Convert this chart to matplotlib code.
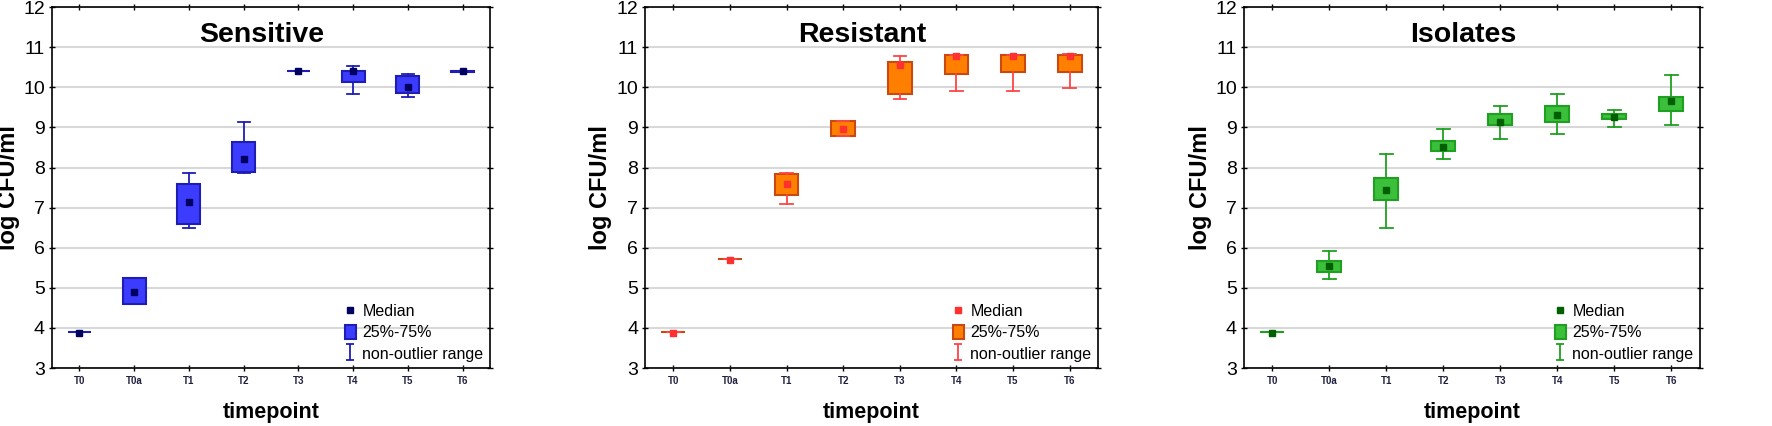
import matplotlib.pyplot as plt
import numpy as np
from matplotlib.path import Path
from matplotlib.patches import Patch
from matplotlib.lines import Line2D

plt.rcParams['font.family'] = ['Liberation Sans Narrow', 'Liberation Sans', 'DejaVu Sans']

timepoints = ["T0", "T0a", "T1", "T2", "T3", "T4", "T5", "T6"]

# sensitive
sens_med = [3.88, 4.90, 7.13, 8.20, 10.40, 10.40, 10.00, 10.40]
sens_q1 = [3.90, 4.60, 6.58, 7.90, 10.40, 10.13, 9.85, 10.38]
sens_q3 = [3.90, 5.25, 7.60, 8.63, 10.40, 10.40, 10.27, 10.40]
sens_lo = [3.90, 4.60, 6.48, 7.87, 10.40, 9.83, 9.77, 10.38]
sens_hi = [3.90, 5.25, 7.87, 9.13, 10.40, 10.53, 10.33, 10.40]

# resistant
res_med = [3.87, 5.70, 7.60, 8.97, 10.55, 10.78, 10.78, 10.78]
res_q1 = [3.90, 5.72, 7.32, 8.78, 9.83, 10.33, 10.37, 10.37]
res_q3 = [3.90, 5.72, 7.83, 9.17, 10.63, 10.80, 10.80, 10.80]
res_lo = [3.90, 5.72, 7.10, 8.78, 9.70, 9.90, 9.90, 9.97]
res_hi = [3.90, 5.72, 7.87, 9.17, 10.77, 10.80, 10.80, 10.82]

# isolates
iso_med = [3.87, 5.55, 7.43, 8.52, 9.13, 9.30, 9.27, 9.65]
iso_q1 = [3.90, 5.40, 7.20, 8.40, 9.05, 9.13, 9.20, 9.40]
iso_q3 = [3.90, 5.67, 7.73, 8.67, 9.33, 9.53, 9.33, 9.77]
iso_lo = [3.90, 5.23, 6.48, 8.20, 8.70, 8.83, 9.00, 9.07]
iso_hi = [3.90, 5.93, 8.33, 8.97, 9.53, 9.83, 9.43, 10.30]

panels = [
    ("Sensitive", sens_med, sens_q1, sens_q3, sens_lo, sens_hi, "#3c3cff", "#1e1eb4", "#1e1eb4", "#000060"),
    ("Resistant", res_med, res_q1, res_q3, res_lo, res_hi, "#ff8000", "#c84a10", "#ff4545", "#ff3030"),
    ("Isolates", iso_med, iso_q1, iso_q3, iso_lo, iso_hi, "#3cc03c", "#20a020", "#20a020", "#006000"),
]
positions = [[0.0293, 0.136, 0.2472, 0.8474],
             [0.364, 0.136, 0.2556, 0.8474],
             [0.702, 0.136, 0.2573, 0.8474]]
label_x = [-0.073, -0.073, -0.070]

# whisker symbol for the legend
whisk = Path([(-0.5, 1), (0.5, 1), (0, 1), (0, -1), (-0.5, -1), (0.5, -1)],
             [Path.MOVETO, Path.LINETO, Path.MOVETO, Path.LINETO, Path.MOVETO, Path.LINETO])

fig = plt.figure(figsize=(17.72, 4.26), dpi=100)
for pos, lx, (name, med, q1, q3, lo, hi, fill, edge, wcol, mcol) in zip(positions, label_x, panels):
    ax = fig.add_axes(pos)
    x = np.arange(len(timepoints))
    stats = []
    for i in range(len(timepoints)):
        stats.append(dict(med=med[i], q1=q1[i], q3=q3[i], whislo=lo[i], whishi=hi[i], fliers=[]))
    ax.bxp(stats, positions=x, widths=0.42, capwidths=0.22, patch_artist=True, showfliers=False,
           boxprops=dict(facecolor=fill, edgecolor=edge, linewidth=1.5),
           whiskerprops=dict(color=wcol, linewidth=1.3),
           capprops=dict(color=wcol, linewidth=1.3),
           medianprops=dict(visible=False), zorder=3)
    ax.plot(x, med, 's', color=mcol, markersize=5, zorder=4, linestyle='none')
    ax.set_xlim(-0.5, len(timepoints) - 0.5)
    ax.set_ylim(3, 12)
    ax.set_yticks(range(3, 13))
    ax.set_xticks(x)
    ax.set_xticklabels(timepoints, fontsize=7, fontweight='bold', color='#202040')
    ax.tick_params(axis='y', labelsize=14, pad=3)
    ax.tick_params(which='both', top=True, right=True, direction='inout', length=4, width=1)
    ax.grid(axis='y', color='#d8d8d8', linewidth=1.5, zorder=0)
    ax.set_axisbelow(True)
    for s in ax.spines.values():
        s.set_linewidth(1.2)
    ax.set_ylabel("log CFU/ml", fontsize=17, fontweight='bold', family=['Liberation Sans', 'DejaVu Sans'])
    ax.yaxis.set_label_coords(lx, 0.5)
    ax.set_xlabel("timepoint", fontsize=15.5, fontweight='bold', family=['Liberation Sans', 'DejaVu Sans'], labelpad=12)
    ax.text(0.48, 0.922, name, transform=ax.transAxes, ha='center', va='center', fontsize=20.5,
            fontweight='bold', family=['Liberation Sans', 'DejaVu Sans'])
    handles = [Line2D([], [], marker='s', color=mcol, linestyle='none', markersize=5),
               Patch(facecolor=fill, edgecolor=edge, linewidth=1.5),
               Line2D([], [], marker=whisk, color=wcol, linestyle='none', markersize=11, markeredgewidth=1.3)]
    ax.legend(handles, ["Median", "25%-75%", "non-outlier range"], loc='lower right', frameon=False,
              fontsize=11.5, handlelength=0.7, handleheight=1.0, handletextpad=0.4, labelspacing=0.35,
              borderaxespad=0.1, borderpad=0.3)

fig.savefig("out.png", dpi=100)
